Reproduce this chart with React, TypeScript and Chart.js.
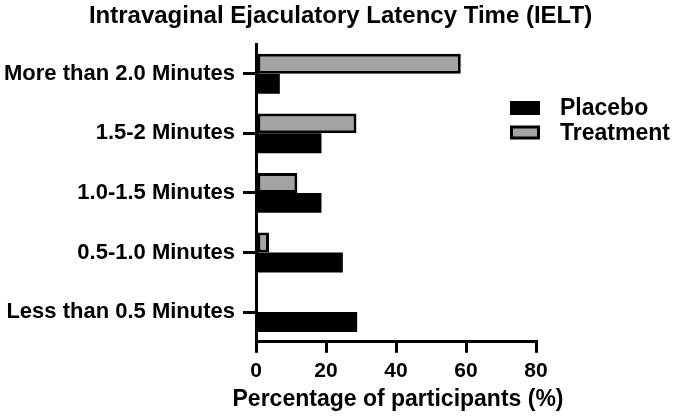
import React, { useEffect, useRef } from "react";
import { Chart, registerables } from "chart.js";

Chart.register(...registerables);

const categories = [
  "More than 2.0 Minutes",
  "1.5-2 Minutes",
  "1.0-1.5 Minutes",
  "0.5-1.0 Minutes",
  "Less than 0.5 Minutes",
];
const treatmentValues = [58.5, 28.7, 11.8, 3.7, 0.6];
const placeboValues = [6.8, 18.7, 18.7, 24.8, 28.9];
const xTicks = [0, 20, 40, 60, 80];
const chartTitle = "Intravaginal Ejaculatory Latency Time (IELT)";
const xTitle = "Percentage of participants (%)";

const FONT = "'Liberation Sans', Arial, sans-serif";
const GRAY = "#a3a3a3";

const titleLegendPlugin = {
  id: "titleLegend",
  afterDraw(chart: any) {
    const ctx = chart.ctx;
    const area = chart.chartArea;
    ctx.save();
    ctx.fillStyle = "#000";
    // chart title
    ctx.font = `bold 24px ${FONT}`;
    ctx.textAlign = "center";
    ctx.textBaseline = "alphabetic";
    ctx.fillText(chartTitle, chart.width / 2, 23);
    // x axis title
    ctx.font = `bold 23px ${FONT}`;
    ctx.fillText(xTitle, (area.left + area.right) / 2 + 2, 406);
    // legend
    const items = [
      { label: chart.data.datasets[1].label, fill: chart.data.datasets[1].backgroundColor },
      { label: chart.data.datasets[0].label, fill: chart.data.datasets[0].backgroundColor },
    ];
    ctx.font = `bold 23px ${FONT}`;
    ctx.textAlign = "left";
    ctx.textBaseline = "middle";
    items.forEach((it, i) => {
      const x = 510;
      const y = 101 + i * 24.5;
      ctx.fillStyle = "#000";
      ctx.fillRect(x, y, 30, 14);
      if (it.fill !== "#000000") {
        ctx.fillStyle = it.fill;
        ctx.fillRect(x + 3, y + 3, 24, 8);
      }
      ctx.fillStyle = "#000";
      ctx.fillText(it.label, 560, y + 8);
    });
    ctx.restore();
  },
};

export default function App() {
  const ref = useRef<HTMLCanvasElement>(null);
  useEffect(() => {
    if (!ref.current) return;
    const chart = new Chart(ref.current, {
      type: "bar",
      data: {
        labels: categories,
        datasets: [
          {
            label: "Treatment",
            data: treatmentValues,
            backgroundColor: GRAY,
            borderColor: "#000000",
            borderWidth: 3,
            borderSkipped: false,
            barPercentage: 1,
            categoryPercentage: 0.67,
          },
          {
            label: "Placebo",
            data: placeboValues,
            backgroundColor: "#000000",
            borderColor: "#000000",
            borderWidth: 0,
            barPercentage: 1,
            categoryPercentage: 0.67,
          },
        ],
      },
      plugins: [titleLegendPlugin],
      options: {
        indexAxis: "y",
        animation: false,
        responsive: false,
        maintainAspectRatio: false,
        layout: { padding: { left: -4, right: 145, top: 44, bottom: 28 } },
        plugins: {
          legend: { display: false },
          tooltip: { enabled: false },
          title: { display: false },
        },
        scales: {
          x: {
            min: 0,
            max: 80,
            afterBuildTicks(scale: any) {
              scale.ticks = xTicks.map((v) => ({ value: v }));
            },
            grid: {
              drawOnChartArea: false,
              drawTicks: true,
              tickLength: 11,
              lineWidth: 3,
              color: "#000",
            },
            border: { display: true, color: "#000", width: 3 },
            ticks: {
              color: "#000",
              padding: 6,
              font: { family: FONT, size: 21, weight: "bold" },
              maxRotation: 0,
            },
            title: { display: false },
          },
          y: {
            grid: {
              offset: false,
              drawOnChartArea: false,
              drawTicks: true,
              tickLength: 13,
              lineWidth: 3,
              color: "#000",
            },
            border: { display: true, color: "#000", width: 3 },
            ticks: {
              color: "#000",
              padding: 8,
              font: { family: FONT, size: 22, weight: "bold" },
            },
          },
        },
      },
    } as any);
    return () => chart.destroy();
  }, []);
  return (
    <div style={{ position: "absolute", left: 0, top: 0, width: 681, height: 418, background: "#fff" }}>
      <canvas ref={ref} width={681} height={418} style={{ width: 681, height: 418 }} />
    </div>
  );
}
